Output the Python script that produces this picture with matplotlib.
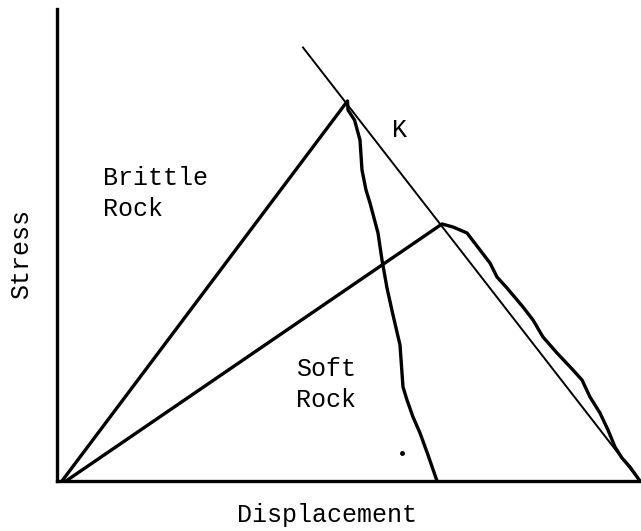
import matplotlib
matplotlib.use('Agg')
import matplotlib.pyplot as plt

plt.rcParams['font.family'] = ['Liberation Mono', 'DejaVu Sans Mono']

# loading lines (displacement, stress), arbitrary units
brittle_x = [5, 290.5, 291, 297.5, 303, 305, 309, 313, 321, 325, 330, 336, 343, 346, 350, 356, 363, 371, 380]
brittle_y = [0, 380, 371, 361, 341, 311, 291, 278, 248, 221, 193, 166, 136, 94, 81, 64, 48, 26, 0]

soft_x = [9, 385, 396, 410, 423, 433, 440, 450, 466, 476, 486, 500, 516, 525, 533, 543, 551, 558, 565, 573, 583]
soft_y = [0, 257, 254, 248, 231, 218, 204, 193, 174, 161, 144, 128, 111, 101, 84, 68, 51, 34, 23, 14, 0]

# machine stiffness line K
k_x = [246, 582]
k_y = [433.5, 1]

dot_x = [344.7]
dot_y = [28.3]

fig = plt.figure(figsize=(6.41, 5.31), dpi=100)
ax = fig.add_axes([57 / 641, 50 / 531, 584 / 641, 472.5 / 531])
ax.set_xlim(0, 584)
ax.set_ylim(0, 472.5)

ax.plot(brittle_x, brittle_y, color='black', lw=2.4, solid_joinstyle='round', solid_capstyle='round')
ax.plot(soft_x, soft_y, color='black', lw=2.4, solid_joinstyle='round', solid_capstyle='round')
ax.plot(k_x, k_y, color='black', lw=1.4)
ax.plot(dot_x, dot_y, 'o', color='black', ms=2.5)

fs = 18
ax.text(343, 351, 'K', fontsize=fs, ha='center', va='center')
ax.text(46, 296, 'Brittle', fontsize=fs, ha='left', va='baseline')
ax.text(46, 265, 'Rock', fontsize=fs, ha='left', va='baseline')
ax.text(239, 105, 'Soft', fontsize=fs, ha='left', va='baseline')
ax.text(239, 74, 'Rock', fontsize=fs, ha='left', va='baseline')

fig.text(21 / 641, 1 - 254 / 531, 'Stress', fontsize=fs, rotation=90, ha='center', va='center')
fig.text(327 / 641, 1 - 522 / 531, 'Displacement', fontsize=fs, ha='center', va='baseline')

for s in ['top', 'right']:
    ax.spines[s].set_visible(False)
for s in ['left', 'bottom']:
    ax.spines[s].set_linewidth(2.4)
ax.set_xticks([])
ax.set_yticks([])

fig.savefig('out.png', dpi=100)
